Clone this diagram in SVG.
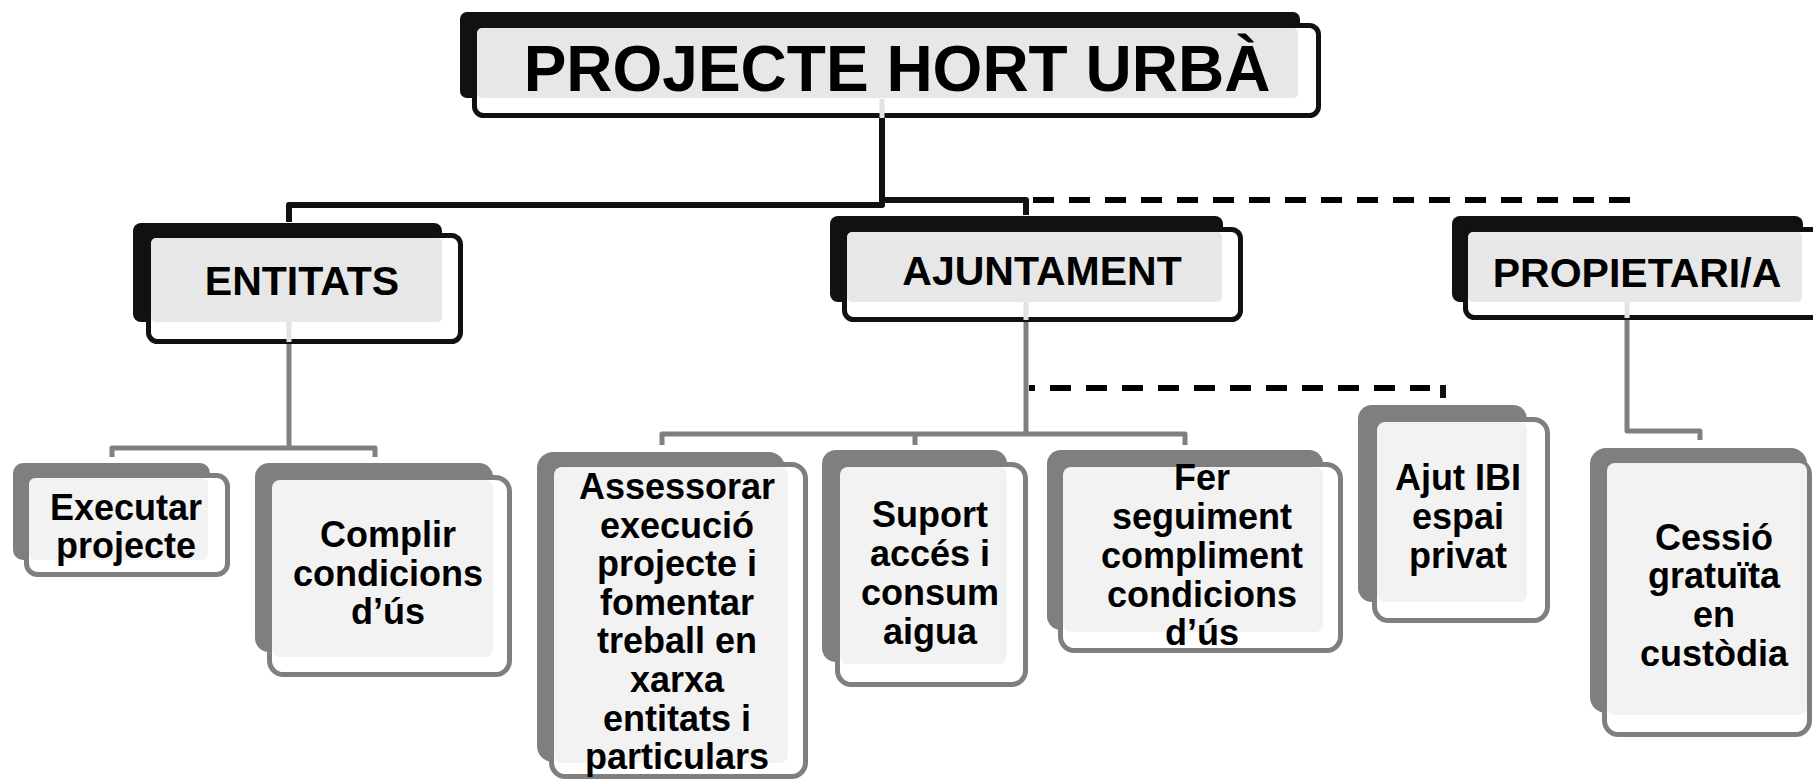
<svg xmlns="http://www.w3.org/2000/svg" width="1813" height="781" viewBox="0 0 1813 781">
<style>
.tshadow{fill:#111}
.tbox{fill:#fff;stroke:#111;stroke-width:5}
.tfill{fill:#e7e7e7}
.lshadow{fill:#7f7f7f}
.lbox{fill:#fff;stroke:#7f7f7f;stroke-width:5}
.lfill{fill:#f2f2f2}
text{font-family:'Liberation Sans',Arial,sans-serif;font-weight:bold;fill:#000;text-anchor:middle}
.t1{font-size:64px}
.t2{font-size:41px}
.t3{font-size:36px}
.cb{stroke:#111;stroke-width:6;fill:none;stroke-linejoin:round}
.cg{stroke:#808080;stroke-width:5;fill:none;stroke-linejoin:round}
.cl{stroke:#e2e2e2;stroke-width:5;fill:none}
.cd{stroke:#000;stroke-width:6;fill:none;stroke-dasharray:21 15}
</style>
<rect width="1813" height="781" fill="#fff"/>
<g id="connectors">
<path class="cb" d="M882 118 V205 H289 V222"/>
<path class="cb" d="M882 200 H1026 V215"/>
<path class="cd" d="M1033 200 H1631"/>
<path class="cd" stroke-dashoffset="15" d="M1029 388 H1430"/>
<path class="cb" d="M1443 385 V398"/>
<path class="cg" d="M289 344 V448"/>
<path class="cg" d="M112 457 V448 H375 V457"/>
<path class="cg" d="M1026 322 V434"/>
<path class="cg" d="M662 445 V434 H1185 V445"/>
<path class="cg" d="M915 434 V445"/>
<path class="cg" d="M1627 320 V431 H1700 V440"/>
</g>
<g id="n-title">
<rect class="tshadow" x="460" y="12" width="840" height="86" rx="7"/>
<rect class="tbox" x="474.5" y="25.5" width="844" height="90" rx="9"/>
<rect class="tfill" x="477" y="28" width="821" height="70" rx="5"/>
<path class="cl" d="M882 99 V118"/>
<text class="t1" x="897" y="91">PROJECTE HORT URBÀ</text>
</g>
<g id="n-entitats">
<rect class="tshadow" x="133" y="223" width="309" height="99" rx="8"/>
<rect class="tbox" x="148.5" y="235.5" width="312" height="106" rx="9"/>
<rect class="tfill" x="151" y="238" width="291" height="84" rx="5"/>
<path class="cl" d="M289 322 V342"/>
<text class="t2" x="302" y="295">ENTITATS</text>
</g>
<g id="n-ajuntament">
<rect class="tshadow" x="830" y="216" width="393" height="86" rx="8"/>
<rect class="tbox" x="844.5" y="229.5" width="396" height="90" rx="9"/>
<rect class="tfill" x="847" y="232" width="375" height="70" rx="5"/>
<path class="cl" d="M1026 302 V320"/>
<text class="t2" x="1042" y="285">AJUNTAMENT</text>
</g>
<g id="n-propietari">
<rect class="tshadow" x="1452" y="216" width="351" height="86" rx="8"/>
<rect class="tbox" x="1465.5" y="229.5" width="400" height="88" rx="9"/>
<rect class="tfill" x="1468" y="232" width="334" height="70" rx="5"/>
<path class="cl" d="M1627 302 V318"/>
<text class="t2" x="1637" y="287">PROPIETARI/A</text>
</g>
<g id="n-executar">
<rect class="lshadow" x="13" y="463" width="197" height="97" rx="10"/>
<rect class="lbox" x="26.5" y="475.5" width="201" height="99" rx="11"/>
<rect class="lfill" x="29" y="478" width="179" height="82" rx="6"/>
<text class="t3" x="126" y="520">Executar</text>
<text class="t3" x="126" y="558">projecte</text>
</g>
<g id="n-complir">
<rect class="lshadow" x="255" y="463" width="238" height="189" rx="14"/>
<rect class="lbox" x="269.5" y="477.5" width="240" height="197" rx="14"/>
<rect class="lfill" x="272" y="480" width="221" height="177" rx="8"/>
<text class="t3" x="388" y="547">Complir</text>
<text class="t3" x="388" y="586">condicions</text>
<text class="t3" x="388" y="624">d’ús</text>
</g>
<g id="n-assessorar">
<rect class="lshadow" x="537" y="452" width="248" height="310" rx="16"/>
<rect class="lbox" x="551.5" y="464.5" width="254" height="312" rx="14"/>
<rect class="lfill" x="554" y="467" width="234" height="296" rx="8"/>
<text class="t3" x="677" y="499">Assessorar</text>
<text class="t3" x="677" y="537.6">execució</text>
<text class="t3" x="677" y="576.2">projecte i</text>
<text class="t3" x="677" y="614.8">fomentar</text>
<text class="t3" x="677" y="653.4">treball en</text>
<text class="t3" x="677" y="692">xarxa</text>
<text class="t3" x="677" y="730.6">entitats i</text>
<text class="t3" x="677" y="769.2">particulars</text>
</g>
<g id="n-suport">
<rect class="lshadow" x="822" y="450" width="185" height="212" rx="14"/>
<rect class="lbox" x="837.5" y="464.5" width="188" height="220" rx="14"/>
<rect class="lfill" x="840" y="467" width="167" height="197" rx="8"/>
<text class="t3" x="930" y="527">Suport</text>
<text class="t3" x="930" y="566">accés i</text>
<text class="t3" x="930" y="605">consum</text>
<text class="t3" x="930" y="644">aigua</text>
</g>
<g id="n-fer">
<rect class="lshadow" x="1047" y="450" width="276" height="180" rx="14"/>
<rect class="lbox" x="1060.5" y="464.5" width="280" height="186" rx="14"/>
<rect class="lfill" x="1063" y="467" width="260" height="165" rx="8"/>
<text class="t3" x="1202" y="490">Fer</text>
<text class="t3" x="1202" y="529">seguiment</text>
<text class="t3" x="1202" y="568">compliment</text>
<text class="t3" x="1202" y="607">condicions</text>
<text class="t3" x="1202" y="645">d’ús</text>
</g>
<g id="n-ajut">
<rect class="lshadow" x="1358" y="405" width="169" height="197" rx="14"/>
<rect class="lbox" x="1374.5" y="419.5" width="173" height="201" rx="14"/>
<rect class="lfill" x="1377" y="422" width="150" height="180" rx="8"/>
<text class="t3" x="1458" y="490">Ajut IBI</text>
<text class="t3" x="1458" y="529">espai</text>
<text class="t3" x="1458" y="568">privat</text>
</g>
<g id="n-cessio">
<rect class="lshadow" x="1590" y="448" width="217" height="265" rx="16"/>
<rect class="lbox" x="1604.5" y="460.5" width="205" height="274" rx="14"/>
<rect class="lfill" x="1607" y="463" width="200" height="252" rx="8"/>
<text class="t3" x="1714" y="550">Cessió</text>
<text class="t3" x="1714" y="588">gratuïta</text>
<text class="t3" x="1714" y="627">en</text>
<text class="t3" x="1714" y="666">custòdia</text>
</g>
</svg>
